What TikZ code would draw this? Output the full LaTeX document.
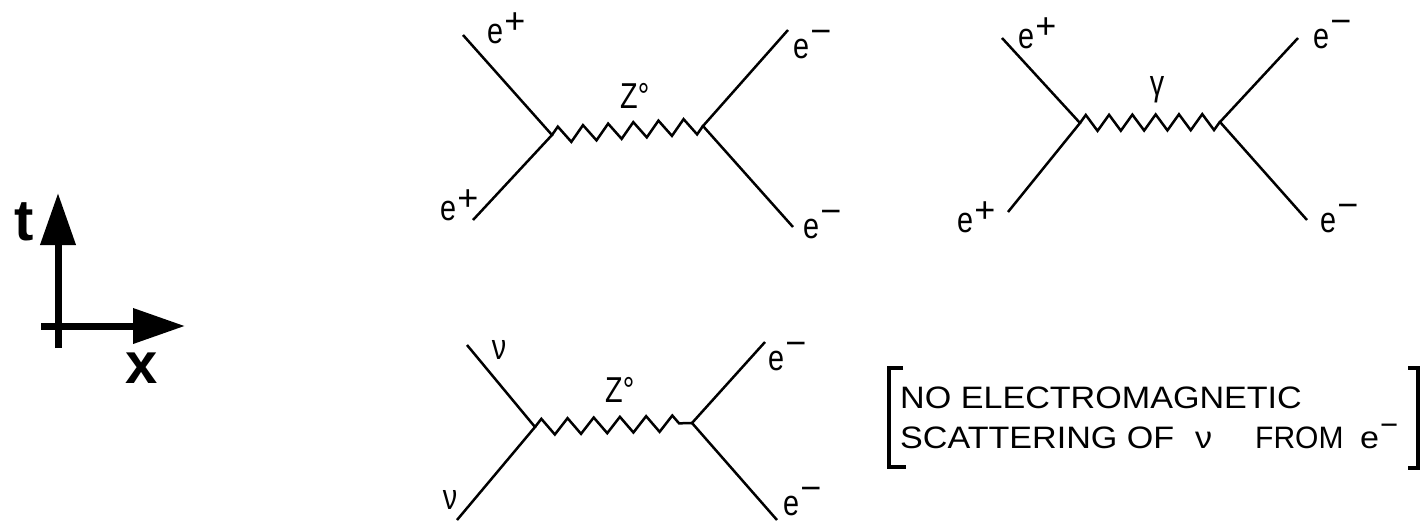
\documentclass[tikz,border=0pt]{standalone}
\usepackage{fontspec}
\setmainfont{Liberation Sans}
\newfontfamily\labfont[FakeStretch=0.8]{Liberation Sans}
\newfontfamily\notefont[FakeStretch=1.1]{Liberation Sans}
\usetikzlibrary{arrows.meta,decorations.pathmorphing}
\newcommand\epos{e\raisebox{0.26em}{\rmfamily\kern0.03em+}}
\newcommand\eneg{e\raisebox{0.40em}{\rmfamily\kern0.03em−}}
\tikzset{
  fline/.style={line width=2.5pt, black},
  boson/.style={fline, decorate, decoration={zigzag, amplitude=8pt, segment length=#1}},
  lab/.style={inner sep=0pt, anchor=base west, font=\labfont\fontsize{36}{36}\selectfont},
  labc/.style={inner sep=0pt, font=\labfont\fontsize{36}{36}\selectfont},
  axis/.style={line width=7pt, -{Triangle[length=52pt,width=34pt]}},
  axlab/.style={inner sep=0pt, anchor=base, font=\bfseries\fontsize{58}{58}\selectfont},
  note/.style={inner sep=0pt, anchor=base west, font=\notefont\fontsize{31}{31}\selectfont},
  brk/.style={line width=3.5pt, black},
}
\begin{document}
\begin{tikzpicture}[x=1pt,y=-1pt]
\useasboundingbox (0,0) rectangle (1422,523);
\fill[white] (0,0) rectangle (1422,523);
% axes
\coordinate (vb) at (58,348);
\coordinate (vt) at (58,193);
\coordinate (hl) at (41,326);
\coordinate (hr) at (185,326);
\draw[axis] (vb) -- (vt);
\draw[axis] (hl) -- (hr);
\node[axlab] (tlab) at (24,240) {t};
\node[axlab] (xlab) at (142,383) {x};
% diagram 1
\coordinate (L1) at (552,135);
\coordinate (R1) at (703,126);
\coordinate (A1) at (463,35);
\coordinate (B1) at (473,220);
\coordinate (C1) at (788,30);
\coordinate (D1) at (793,227);
\draw[fline] (A1) -- (L1) -- (B1);
\draw[fline] (C1) -- (R1) -- (D1);
\draw[boson=25.2pt] (L1) -- (R1);
\node[lab] (a1) at (487,43) {\epos};
\node[lab] (b1) at (440,220) {\epos};
\node[lab] (z1) at (620,108) {Z°};
\node[lab] (c1) at (793,58) {\eneg};
\node[lab] (d1) at (803,238) {\eneg};
% diagram 2
\coordinate (L2) at (1080,123);
\coordinate (R2) at (1220,122);
\coordinate (A2) at (1002,38);
\coordinate (B2) at (1008,212);
\coordinate (C2) at (1298,38);
\coordinate (D2) at (1307,220);
\draw[fline] (A2) -- (L2) -- (B2);
\draw[fline] (C2) -- (R2) -- (D2);
\draw[boson=23.3pt] (L2) -- (R2);
\node[lab] (a2) at (1018,48) {\epos};
\node[lab] (b2) at (957,232) {\epos};
\node[labc] (g2) at (1157,90) {γ};
\node[lab] (c2) at (1313,48) {\eneg};
\node[lab] (d2) at (1320,232) {\eneg};
% diagram 3
\coordinate (L3) at (535,427);
\coordinate (R3) at (692,423);
\coordinate (A3) at (467,345);
\coordinate (B3) at (457,520);
\coordinate (C3) at (765,342);
\coordinate (D3) at (777,520);
\draw[fline] (A3) -- (L3) -- (B3);
\draw[fline] (C3) -- (R3) -- (D3);
\draw[boson=26.2pt] (L3) -- (R3);
\node[labc] (a3) at (499,350) {ν};
\node[labc] (b3) at (450,500) {ν};
\node[lab] (z3) at (605,402) {Z°};
\node[lab] (c3) at (768,370) {\eneg};
\node[lab] (d3) at (783,515) {\eneg};
% bracket note
\coordinate (bl1) at (903,368);
\coordinate (bl2) at (889,368);
\coordinate (bl3) at (889,467);
\coordinate (bl4) at (906,467);
\coordinate (br1) at (1408,368);
\coordinate (br2) at (1418,368);
\coordinate (br3) at (1418,468);
\coordinate (br4) at (1408,468);
\draw[brk] (bl1) -- (bl2) -- (bl3) -- (bl4);
\draw[brk] (br1) -- (br2) -- (br3) -- (br4);
\node[note] (n1) at (900,408) {NO ELECTROMAGNETIC};
\node[note] (n2) at (900,448) {\makebox[295pt][l]{SCATTERING OF}\makebox[60pt][l]{ν}\makebox[105pt][l]{\scalebox{0.88}[1]{FROM}}\eneg};
\end{tikzpicture}
\end{document}
